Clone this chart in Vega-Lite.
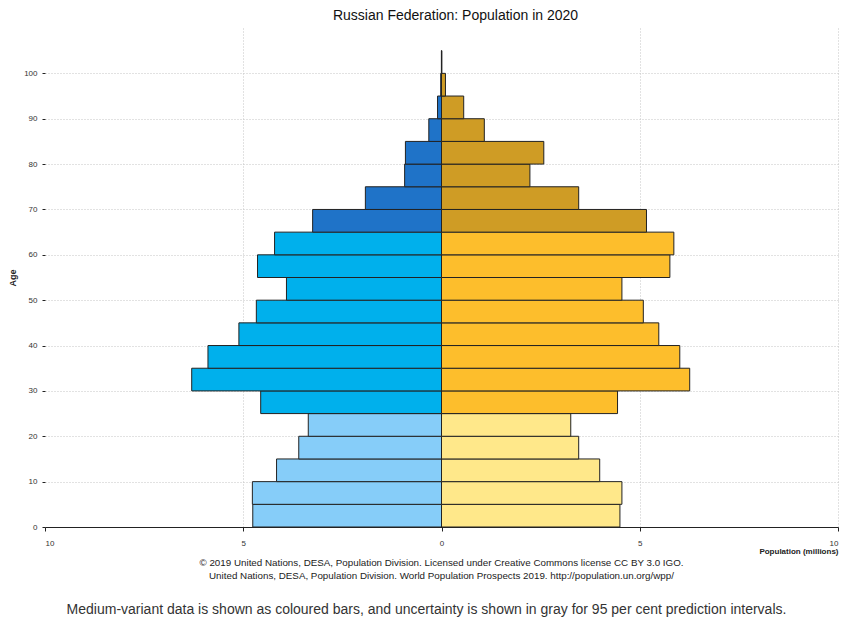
{
  "$schema": "https://vega.github.io/schema/vega-lite/v6.json",
  "padding": {"left": 8, "top": 9, "right": 5, "bottom": 5},
  "background": "white",
  "spacing": 1,
  "config": {
    "font": "Liberation Sans",
    "view": {"stroke": null},
    "axis": {
      "labelFont": "Liberation Sans", "labelFontSize": 8, "labelColor": "#333",
      "tickColor": "#222", "domainColor": "#222",
      "titleFont": "Liberation Sans", "titleFontSize": 8, "titleFontWeight": "bold", "titleColor": "#222"
    }
  },
  "vconcat": [
    {
      "width": 793,
      "height": 499,
      "title": {"text": "Russian Federation: Population in 2020", "fontSize": 14, "fontWeight": "normal", "color": "#111", "anchor": "middle", "offset": 5, "dx": 14},
      "layer": [
        {
          "data": {"values": [
            {"sex": "Males", "age": 0, "pop": 4.76},
            {"sex": "Males", "age": 5, "pop": 4.77},
            {"sex": "Males", "age": 10, "pop": 4.16},
            {"sex": "Males", "age": 15, "pop": 3.60},
            {"sex": "Males", "age": 20, "pop": 3.36},
            {"sex": "Males", "age": 25, "pop": 4.56},
            {"sex": "Males", "age": 30, "pop": 6.30},
            {"sex": "Males", "age": 35, "pop": 5.89},
            {"sex": "Males", "age": 40, "pop": 5.11},
            {"sex": "Males", "age": 45, "pop": 4.67},
            {"sex": "Males", "age": 50, "pop": 3.91},
            {"sex": "Males", "age": 55, "pop": 4.64},
            {"sex": "Males", "age": 60, "pop": 4.21},
            {"sex": "Males", "age": 65, "pop": 3.25},
            {"sex": "Males", "age": 70, "pop": 1.92},
            {"sex": "Males", "age": 75, "pop": 0.93},
            {"sex": "Males", "age": 80, "pop": 0.91},
            {"sex": "Males", "age": 85, "pop": 0.32},
            {"sex": "Males", "age": 90, "pop": 0.10},
            {"sex": "Males", "age": 95, "pop": 0.02},
            {"sex": "Males", "age": 100, "pop": 0.003},
            {"sex": "Females", "age": 0, "pop": 4.50},
            {"sex": "Females", "age": 5, "pop": 4.55},
            {"sex": "Females", "age": 10, "pop": 3.99},
            {"sex": "Females", "age": 15, "pop": 3.46},
            {"sex": "Females", "age": 20, "pop": 3.26},
            {"sex": "Females", "age": 25, "pop": 4.44},
            {"sex": "Females", "age": 30, "pop": 6.26},
            {"sex": "Females", "age": 35, "pop": 6.01},
            {"sex": "Females", "age": 40, "pop": 5.48},
            {"sex": "Females", "age": 45, "pop": 5.09},
            {"sex": "Females", "age": 50, "pop": 4.55},
            {"sex": "Females", "age": 55, "pop": 5.76},
            {"sex": "Females", "age": 60, "pop": 5.86},
            {"sex": "Females", "age": 65, "pop": 5.17},
            {"sex": "Females", "age": 70, "pop": 3.46},
            {"sex": "Females", "age": 75, "pop": 2.23},
            {"sex": "Females", "age": 80, "pop": 2.58},
            {"sex": "Females", "age": 85, "pop": 1.08},
            {"sex": "Females", "age": 90, "pop": 0.56},
            {"sex": "Females", "age": 95, "pop": 0.10},
            {"sex": "Females", "age": 100, "pop": 0.01}
          ]},
          "transform": [
            {"calculate": "datum.sex === 'Males' ? -datum.pop : datum.pop", "as": "signed"},
            {"calculate": "datum.age + 5", "as": "age_end"},
            {"calculate": "datum.sex + (datum.age < 25 ? ' 0-24' : datum.age < 65 ? ' 25-64' : ' 65+')", "as": "group"}
          ],
          "mark": {"type": "rect", "stroke": "#222", "strokeWidth": 1},
          "encoding": {
            "y": {
              "field": "age", "type": "quantitative",
              "scale": {"domain": [0, 110], "nice": false},
              "axis": {
                "values": [0, 10, 20, 30, 40, 50, 60, 70, 80, 90, 100],
                "title": "Age", "titleFontSize": 9, "titlePadding": 6,
                "grid": true, "gridDash": [1, 2], "gridColor": "#c4c4c4",
                "domain": false, "tickSize": 3, "labelPadding": 5
              }
            },
            "y2": {"field": "age_end"},
            "x": {
              "field": "signed", "type": "quantitative",
              "scale": {"domain": [-10, 10], "nice": false},
              "axis": {
                "values": [-10, -5, 0, 5, 10],
                "labelExpr": "abs(datum.value)",
                "grid": true, "gridDash": [1, 2], "gridColor": "#c4c4c4",
                "gridOpacity": {"condition": {"test": "datum.value === 0 || datum.value === -10", "value": 0}, "value": 1},
                "title": "Population (millions)", "titleAnchor": "end", "titlePadding": 0,
                "tickSize": 4, "labelPadding": 8
              }
            },
            "x2": {"datum": 0},
            "color": {
              "field": "group", "type": "nominal",
              "scale": {
                "domain": ["Males 0-24", "Males 25-64", "Males 65+", "Females 0-24", "Females 25-64", "Females 65+"],
                "range": ["#86cdf9", "#00b0ec", "#1f73c8", "#ffe88a", "#fdbe2c", "#cf9c25"]
              },
              "legend": null
            }
          }
        },
        {
          "mark": {"type": "rule", "color": "#222", "strokeWidth": 1},
          "encoding": {"x": {"datum": -10}, "y": {"datum": 0}, "y2": {"datum": 100}}
        },
        {
          "mark": {"type": "text", "text": "Males", "fontSize": 13, "color": "#222"},
          "encoding": {"x": {"datum": -7.5}, "y": {"datum": 104.6}}
        },
        {
          "mark": {"type": "text", "text": "Females", "fontSize": 13, "color": "#222"},
          "encoding": {"x": {"datum": 7.5}, "y": {"datum": 104.6}}
        }
      ]
    },
    {
      "width": 793,
      "height": 26,
      "title": {"text": "Medium-variant data is shown as coloured bars, and uncertainty is shown in gray for 95 per cent prediction intervals.", "orient": "bottom", "fontSize": 14, "fontWeight": "normal", "color": "#333", "anchor": "middle", "offset": 21, "dx": -15},
      "data": {"values": [
        {"line": 1, "text": "© 2019 United Nations, DESA, Population Division. Licensed under Creative Commons license CC BY 3.0 IGO."},
        {"line": 2, "text": "United Nations, DESA, Population Division. World Population Prospects 2019. http://population.un.org/wpp/"}
      ]},
      "mark": {"type": "text", "fontSize": 9.8, "color": "#222"},
      "encoding": {
        "y": {"field": "line", "type": "ordinal", "axis": null},
        "x": {"datum": 0, "type": "quantitative", "scale": {"domain": [-1, 1]}, "axis": null},
        "text": {"field": "text"}
      }
    }
  ]
}
